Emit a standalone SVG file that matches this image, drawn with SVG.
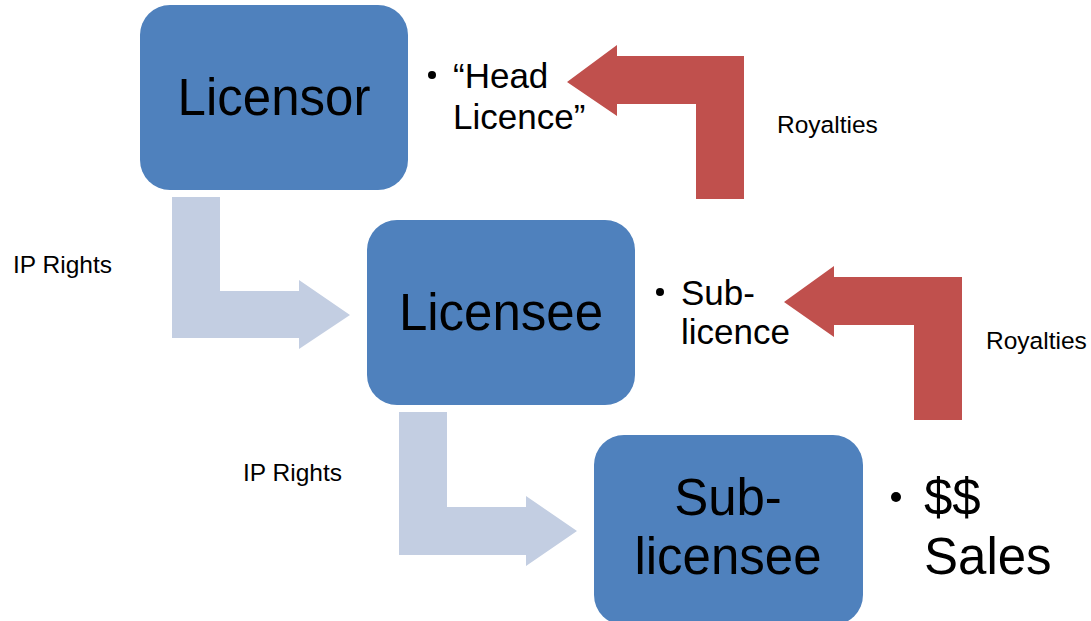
<svg xmlns="http://www.w3.org/2000/svg" width="1091" height="621" viewBox="0 0 1091 621">
<style>
.box{fill:#4F81BD}
.red{fill:#C0504D}
.blue{fill:#C3CEE2}
.big{font-family:"Liberation Sans",Arial,sans-serif;font-size:51px;fill:#000}
.mid{font-family:"Liberation Sans",Arial,sans-serif;font-size:35px;fill:#000}
.lbl{font-family:"Liberation Sans",Arial,sans-serif;font-size:24.5px;fill:#000}
</style>
<rect width="1091" height="621" fill="#fff"/>
<g id="connectors">
<polygon class="red" points="567,82 617,45 617,56 744,56 744,199 696,199 696,104 617,104 617,116"/>
<polygon class="red" points="784,302 834,266 834,277 962,277 962,420 914,420 914,325 834,325 834,337"/>
<polygon class="blue" points="172,197 220,197 220,291 299,291 299,280 350,315 299,349 299,338 172,338"/>
<polygon class="blue" points="399,412 447,412 447,507 526,507 526,496 577,531 526,566 526,555 399,555"/>
<text class="lbl" x="777" y="133">Royalties</text>
<text class="lbl" x="986" y="349">Royalties</text>
<text class="lbl" x="13" y="273">IP Rights</text>
<text class="lbl" x="243" y="481">IP Rights</text>
</g>
<g id="licensor">
<rect class="box" x="140" y="5" width="268" height="185" rx="30"/>
<text class="big" x="274" y="115" text-anchor="middle">Licensor</text>
<circle cx="432" cy="75" r="4"/>
<text class="mid" x="453" y="88">“Head</text>
<text class="mid" x="453" y="129">Licence”</text>
</g>
<g id="licensee">
<rect class="box" x="367" y="220" width="268" height="185" rx="30"/>
<text class="big" x="501" y="330" text-anchor="middle">Licensee</text>
<circle cx="660" cy="292" r="4"/>
<text class="mid" x="681" y="305">Sub-</text>
<text class="mid" x="681" y="344">licence</text>
</g>
<g id="sublicensee">
<rect class="box" x="594" y="435" width="269" height="190" rx="30"/>
<text class="big" x="728" y="515" text-anchor="middle">Sub-</text>
<text class="big" x="728" y="574" text-anchor="middle">licensee</text>
<circle cx="896" cy="497" r="5"/>
<text class="big" x="924" y="515">$$</text>
<text class="big" x="924" y="574">Sales</text>
</g>
</svg>
